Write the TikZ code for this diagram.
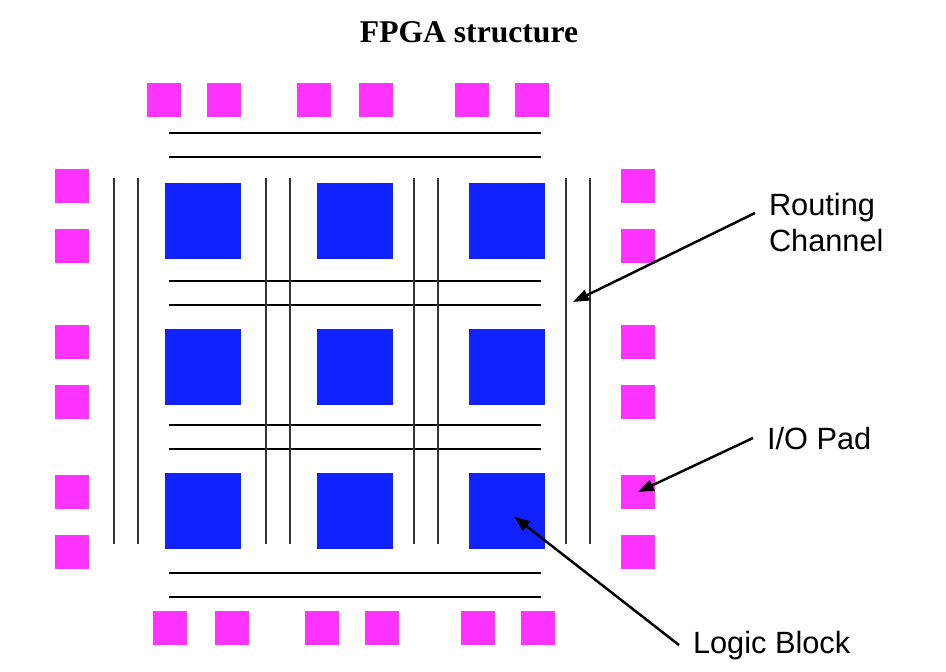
\documentclass[tikz,border=0pt]{standalone}
\usepackage{fontspec}
\setmainfont{Liberation Serif}
\newfontfamily\calloutfont{Liberation Sans}
\usetikzlibrary{arrows.meta}
\definecolor{padmagenta}{RGB}{255,51,255}
\definecolor{blockblue}{RGB}{16,34,255}
\begin{document}
\begin{tikzpicture}[
  x=0.02cm, y=-0.02cm,
  pad/.style={fill=padmagenta, minimum size=0.69cm, inner sep=0},
  block/.style={fill=blockblue, minimum size=1.53cm, inner sep=0},
  hwire/.style={line width=1.7pt},
  vwire/.style={line width=0.9pt, black!80},
  callout/.style={font=\calloutfont\fontsize{17.5}{20.5}\selectfont, inner sep=0, outer xsep=0.28cm, align=left},
  pointer/.style={line width=1.4pt, -{Triangle[length=9pt,width=6.5pt]}}
]
\useasboundingbox (0,0) rectangle (946,672);
\node[font=\bfseries\fontsize{18}{21}\selectfont, anchor=base] (title) at (469,43) {FPGA structure};
\foreach \x [count=\i] in {164,224,314,376,472,532}
  \node[pad] (pt\i) at (\x,100) {};
\foreach \x [count=\i] in {170,232,322,382,478,538}
  \node[pad] (pb\i) at (\x,628) {};
\foreach \y [count=\i] in {186,246,342,402,492,552} {
  \node[pad] (pl\i) at (72,\y) {};
  \node[pad] (pr\i) at (638,\y) {};
}
\foreach \y [count=\r] in {221,367,511}
  \foreach \x [count=\c] in {203,355,507}
    \node[block] (lb\r\c) at (\x,\y) {};
\foreach \y in {133,157,281,305,425,449,573,597}
  \draw[hwire] (169,\y) -- (541,\y);
\foreach \x in {114,138,266,290,414,438,566,590}
  \draw[vwire] (\x,178) -- (\x,544);
\coordinate (chan) at (573,302);
\node[callout, anchor=west] (rc) at (755,223) {Routing\\Channel};
\node[callout, anchor=base west] (io) at (753,449) {I/O Pad};
\node[callout, anchor=base west] (logic) at (679,653) {Logic Block};
\draw[pointer] ([yshift=0.2cm]rc.west) -- (chan);
\draw[pointer] (io.west) -- (pr5.center);
\draw[pointer, shorten >=0.18cm] (logic.west) -- (lb33.center);
\end{tikzpicture}
\end{document}
